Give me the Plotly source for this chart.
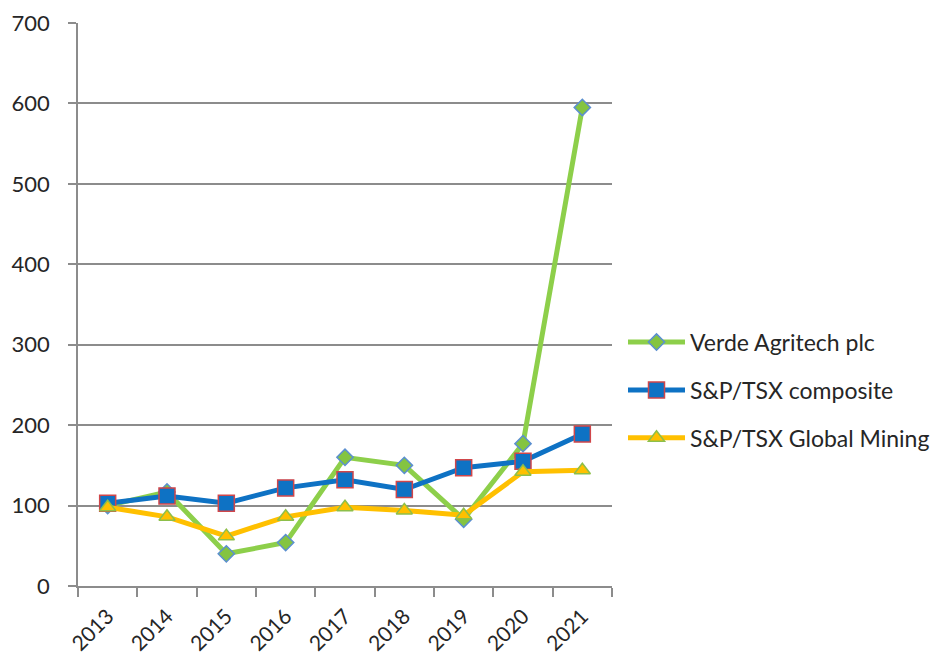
import plotly.graph_objects as go

years = ["2013", "2014", "2015", "2016", "2017", "2018", "2019", "2020", "2021"]
verde = [100, 117, 40, 54, 160, 150, 83, 177, 595]
tsx_composite = [103, 112, 103, 122, 132, 120, 147, 155, 189]
tsx_mining = [98, 86, 62, 86, 98, 94, 88, 142, 144]
y_ticks = [0, 100, 200, 300, 400, 500, 600, 700]

FONT = "Lato, 'Open Sans', sans-serif"
TXT = "#262626"

fig = go.Figure()
fig.add_trace(go.Scatter(
    x=years, y=verde, name="Verde Agritech plc", mode="lines+markers",
    legendgroup="a",
    line=dict(color="#8DCF4A", width=5),
    marker=dict(symbol="diamond", size=12.5, color="#84C441",
                line=dict(color="#5B8FD0", width=1.5)),
))
fig.add_trace(go.Scatter(
    x=years, y=tsx_composite, name="S&P/TSX composite", mode="lines+markers",
    legendgroup="b",
    line=dict(color="#0E72C4", width=5),
    marker=dict(symbol="square", size=16, color="#0E72C4",
                line=dict(color="#D0464A", width=1.5)),
))
fig.add_trace(go.Scatter(
    x=years, y=tsx_mining, name="S&P/TSX Global Mining", mode="lines+markers",
    legendgroup="c",
    line=dict(color="#FFC000", width=5),
    marker=dict(symbol="triangle-up", size=14, color="#FFC000",
                line=dict(color="#8DBF4A", width=1.5)),
))

fig.update_layout(
    width=943, height=659,
    margin=dict(l=70, r=339, t=15, b=81, autoexpand=False),
    paper_bgcolor="white", plot_bgcolor="white",
    font=dict(family=FONT, size=21, color=TXT),
    showlegend=True,
    legend=dict(x=1.0206, y=0.348, xanchor="left", yanchor="middle",
                font=dict(family=FONT, size=23, color=TXT),
                itemwidth=57, traceorder="grouped", tracegroupgap=15,
                bgcolor="rgba(0,0,0,0)"),
)
fig.update_xaxes(
    type="category", tickangle=-45, tickson="boundaries",
    ticks="outside", ticklen=9, tickcolor="#8C8C8C", tickwidth=1.5,
    showline=True, linecolor="#8C8C8C", linewidth=1.5,
    showgrid=False, range=[-0.5, 8.5], automargin=False,
    ticklabelstandoff=8,
    tickfont=dict(family=FONT, size=21, color=TXT),
)
fig.update_yaxes(
    range=[0, 700], tickvals=y_ticks,
    ticks="outside", ticklen=8, tickcolor="#8C8C8C", tickwidth=1.5,
    showline=True, linecolor="#8C8C8C", linewidth=1.5,
    showgrid=True, gridcolor="#8C8C8C", gridwidth=1.5,
    zeroline=False, automargin=False,
    ticklabelstandoff=14,
    tickfont=dict(family=FONT, size=22, color=TXT),
)

fig.write_html("out.html")
